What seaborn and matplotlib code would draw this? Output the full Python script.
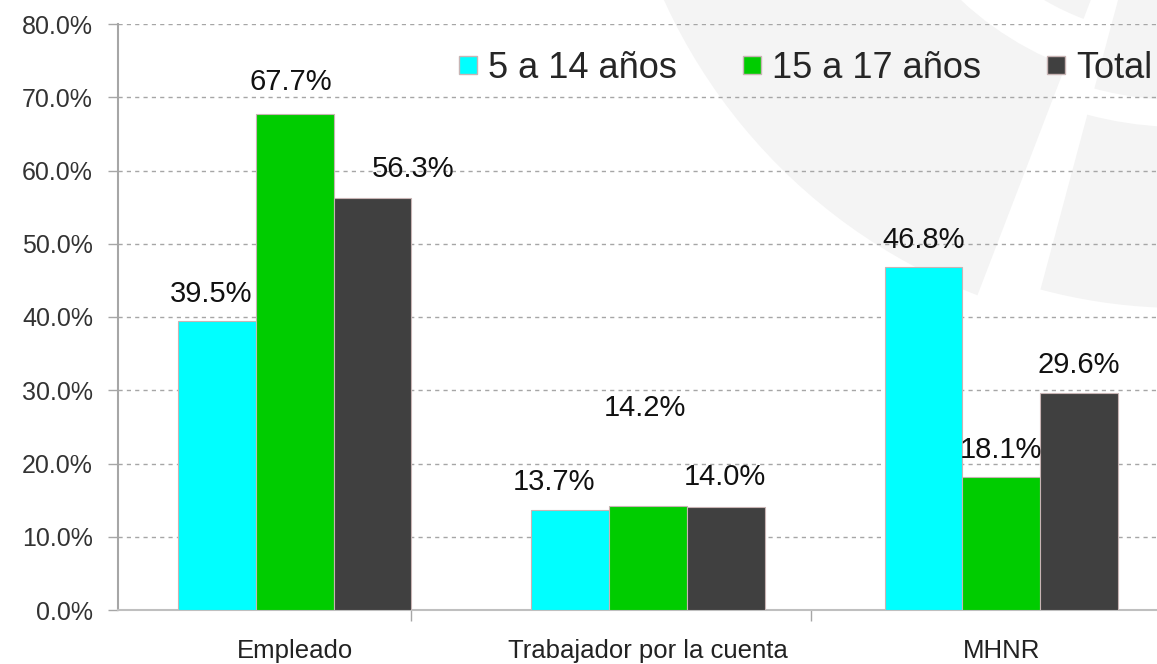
import matplotlib
matplotlib.use("Agg")
import matplotlib.pyplot as plt
from matplotlib.patches import Wedge
from matplotlib.lines import Line2D
import seaborn as sns
import pandas as pd

categories = ["Empleado", "Trabajador por la cuenta", "MHNR"]
series_names = ["5 a 14 años", "15 a 17 años", "Total"]
vals_5_14 = [39.5, 13.7, 46.8]
vals_15_17 = [67.7, 14.2, 18.1]
vals_total = [56.3, 14.0, 29.6]
colors = ["#00FFFF", "#00CC00", "#404040"]
yticks = [0, 10, 20, 30, 40, 50, 60, 70, 80]

# label offsets in pixels (dx, dy) relative to bar top centre, per series / category
label_offsets = [
    [(-6, 27), (-16, 28), (0, 27)],
    [(-4, 32), (-3, 98), (0, 27)],
    [(41, 29), (-1, 30), (0, 28)],
]

rows = []
for name, vals in zip(series_names, [vals_5_14, vals_15_17, vals_total]):
    for c, v in zip(categories, vals):
        rows.append({"cat": c, "serie": name, "val": v})
df = pd.DataFrame(rows)

sns.set_theme(style="white")
plt.rcParams["font.family"] = ["Liberation Sans", "DejaVu Sans"]

W, H = 1157, 664
fig = plt.figure(figsize=(W / 100, H / 100), dpi=100)

# faint background watermark (pixel coordinates, y downward)
bg = fig.add_axes([0, 0, 1, 1], zorder=0)
bg.set_xlim(0, W)
bg.set_ylim(H, 0)
bg.axis("off")
gray = "#f4f4f4"
cx, cy = 1181, -235
bg.add_patch(Wedge((cx, cy), 568, 111, 170, width=568 - 322, color=gray, lw=0))
bg.add_patch(Wedge((cx, cy), 272, 111, 180, color=gray, lw=0))
bg.add_patch(Wedge((cx, cy), 543, 55, 105, width=543 - 362, color=gray, lw=0))
bg.add_patch(Wedge((cx, cy), 335, 40, 105, color=gray, lw=0))

left = 118 / W
bottom = (H - 610) / H
top = (H - 24) / H
ax = fig.add_axes([left, bottom, 1060 / W, top - bottom], zorder=1)
ax.set_facecolor("none")

sns.barplot(data=df, x="cat", y="val", hue="serie", palette=colors,
            saturation=1, width=0.66, ax=ax, edgecolor="#c8b4b4",
            linewidth=0.8, legend=False, zorder=3)

ax.set_xlim(-0.5, 2.5)
ax.set_ylim(0, 80)
ax.set_yticks(yticks)
ax.set_yticklabels([f"{t:.1f}%" for t in yticks], fontsize=18, color="#333333")
ax.set_xticks(range(len(categories)))
ax.set_xticklabels(categories, fontsize=18.5, color="#222222")
ax.tick_params(axis="x", length=0, pad=21)
ax.tick_params(axis="y", length=7, width=1, color="#a6a6a6", pad=11, left=True)
ax.set_xticks([0.33, 1.46], minor=True)
ax.tick_params(axis="x", which="minor", length=8, width=1, color="#a6a6a6", bottom=True)
ax.set_xlabel("")
ax.set_ylabel("")

ax.yaxis.grid(True, linestyle=(0, (3, 3)), color="#a6a6a6", linewidth=1, zorder=0)
ax.set_axisbelow(True)
for s in ["top", "right"]:
    ax.spines[s].set_visible(False)
ax.spines["left"].set_color("#a6a6a6")
ax.spines["left"].set_linewidth(1.5)
ax.spines["bottom"].set_color("#bfbfbf")
ax.spines["bottom"].set_linewidth(1.5)

# data labels
for si, cont in enumerate(ax.containers):
    for ci, bar in enumerate(cont):
        dx, dy = label_offsets[si][ci]
        ax.annotate(f"{bar.get_height():.1f}%",
                    (bar.get_x() + bar.get_width() / 2, bar.get_height()),
                    xytext=(dx, dy), textcoords="offset pixels",
                    ha="center", va="center", fontsize=21, color="#111111",
                    zorder=5)

handles = [Line2D([0], [0], marker="s", linestyle="", markersize=13.5,
                  markerfacecolor=c, markeredgecolor="#c8b4b4") for c in colors]
fig.legend(handles, series_names, loc="center right",
           bbox_to_anchor=(1152 / W, (H - 68) / H), ncol=3, frameon=False,
           fontsize=26, handletextpad=0.28, columnspacing=1.8, handlelength=0.55,
           borderaxespad=0, borderpad=0)

fig.savefig("out.png", dpi=100)
